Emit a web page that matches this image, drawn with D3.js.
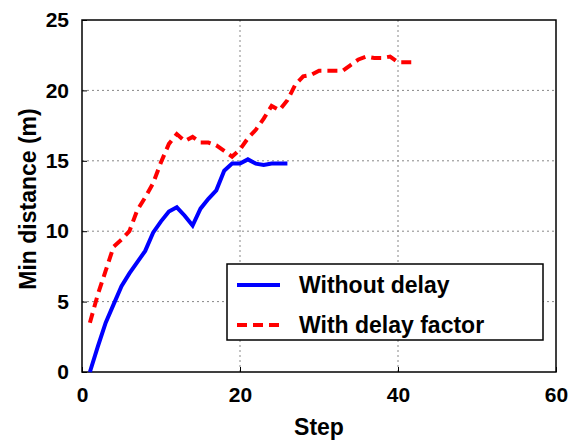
<!DOCTYPE html>
<html>
<head>
<meta charset="utf-8">
<script src="https://cdn.jsdelivr.net/npm/d3@7"></script>
<style>
  body { margin: 0; background: #fff; }
  text { font-family: "Liberation Sans", Arial, sans-serif; font-weight: bold; }
</style>
</head>
<body>
<svg id="chart" width="570" height="440"></svg>
<script>
// data
var stepsNoDelay = d3.range(1, 27);
var noDelay = [0, 1.8, 3.5, 4.8, 6.1, 7.0, 7.8, 8.6, 9.9, 10.7, 11.4, 11.7, 11.1, 10.4,
  11.6, 12.3, 12.9, 14.3, 14.8, 14.8, 15.1, 14.8, 14.7, 14.8, 14.8, 14.8];

var stepsDelay = d3.range(1, 43);
var withDelay = [3.5, 5.5, 7.2, 8.9, 9.4, 10.0, 11.5, 12.4, 13.4, 14.9, 16.2, 16.9, 16.4, 16.7,
  16.3, 16.3, 16.1, 15.7, 15.3, 15.8, 16.6, 17.2, 18.0, 18.9, 18.6, 19.3, 20.4, 21.0,
  21.1, 21.4, 21.4, 21.4, 21.4, 21.8, 22.2, 22.4, 22.3, 22.3, 22.4, 22.0, 22.0, 22.0];

var xTicks = [0, 20, 40, 60];
var yTicks = [0, 5, 10, 15, 20, 25];
var seriesNames = ["Without delay", "With delay factor"];

var margin = { top: 20, right: 14, bottom: 68, left: 82 },
  width = 570 - margin.left - margin.right,
  height = 440 - margin.top - margin.bottom;

var svg = d3.select("#chart")
  .append("g")
  .attr("transform", "translate(" + margin.left + "," + margin.top + ")");

var x = d3.scaleLinear().domain([0, 60]).range([0, width]);
var y = d3.scaleLinear().domain([0, 25]).range([height, 0]);

// grid
svg.append("g").selectAll("line")
  .data(xTicks.slice(1, -1))
  .enter().append("line")
  .attr("x1", d => x(d)).attr("x2", d => x(d))
  .attr("y1", 0).attr("y2", height)
  .attr("stroke", "#888").attr("stroke-width", 1)
  .attr("stroke-dasharray", "2,3");
svg.append("g").selectAll("line")
  .data(yTicks.slice(1, -1))
  .enter().append("line")
  .attr("y1", d => y(d)).attr("y2", d => y(d))
  .attr("x1", 0).attr("x2", width)
  .attr("stroke", "#888").attr("stroke-width", 1)
  .attr("stroke-dasharray", "2,3");

// axes
var xAxis = svg.append("g")
  .attr("transform", "translate(0," + height + ")")
  .call(d3.axisBottom(x).tickValues(xTicks).tickSizeInner(-5).tickSizeOuter(0).tickPadding(15));
var yAxis = svg.append("g")
  .call(d3.axisLeft(y).tickValues(yTicks).tickSizeInner(-5).tickSizeOuter(0).tickPadding(13));
[xAxis, yAxis].forEach(function (a) {
  a.select(".domain").remove();
  a.selectAll("line").attr("stroke", "#000");
  a.selectAll("text").style("font-size", "21px").attr("fill", "#000");
});

// frame
svg.append("rect")
  .attr("x", 0).attr("y", 0)
  .attr("width", width).attr("height", height)
  .attr("fill", "none").attr("stroke", "#000").attr("stroke-width", 1.5);

// lines
var line = d3.line()
  .x(d => x(d[0]))
  .y(d => y(d[1]));

svg.append("path")
  .datum(d3.zip(stepsNoDelay, noDelay))
  .attr("d", line)
  .attr("fill", "none")
  .attr("stroke", "#0000ff")
  .attr("stroke-width", 4);

svg.append("path")
  .datum(d3.zip(stepsDelay, withDelay))
  .attr("d", line)
  .attr("fill", "none")
  .attr("stroke", "#ff0000")
  .attr("stroke-width", 4)
  .attr("stroke-dasharray", "10,6");

// legend
var legend = svg.append("g").attr("transform", "translate(145,244)");
legend.append("rect")
  .attr("width", 316).attr("height", 76)
  .attr("fill", "#fff").attr("stroke", "#000").attr("stroke-width", 1.5);
seriesNames.forEach(function (name, i) {
  var ly = 21 + i * 40;
  legend.append("line")
    .attr("x1", 10).attr("x2", 53)
    .attr("y1", ly).attr("y2", ly)
    .attr("stroke", i === 0 ? "#0000ff" : "#ff0000")
    .attr("stroke-width", 4)
    .attr("stroke-dasharray", i === 0 ? null : "10,6");
  legend.append("text")
    .attr("x", 72).attr("y", ly)
    .attr("dy", "0.35em")
    .style("font-size", "23px")
    .text(name);
});

// axis titles
svg.append("text")
  .attr("x", width / 2).attr("y", height + 63)
  .attr("text-anchor", "middle")
  .style("font-size", "23px")
  .text("Step");
svg.append("text")
  .attr("transform", "rotate(-90)")
  .attr("x", -height / 2 - 3).attr("y", -46)
  .attr("text-anchor", "middle")
  .style("font-size", "23px")
  .text("Min distance (m)");
</script>
</body>
</html>
